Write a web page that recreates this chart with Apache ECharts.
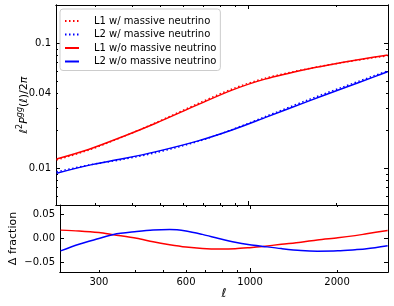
<!DOCTYPE html>
<html>
<head>
<meta charset="utf-8">
<script src="https://cdn.jsdelivr.net/npm/echarts@6/dist/echarts.min.js"></script>
<style>html,body{margin:0;padding:0;background:#fff;}#c{width:394px;height:306px;}</style>
</head>
<body>
<div id="c"></div>
<script>
// ---- data ----
var ellMain = [221, 284, 371, 480, 673, 879, 1139, 1596, 2085, 2700, 2991];
var L1_with = [0.01166, 0.01394, 0.01779, 0.02300, 0.03296, 0.04310, 0.05248, 0.06259, 0.06996, 0.07688, 0.07939];
var L2_with = [0.00936, 0.01060, 0.01175, 0.01328, 0.01640, 0.02038, 0.02585, 0.03519, 0.04438, 0.05516, 0.06006];
var L1_without = [0.01186, 0.01413, 0.01786, 0.02280, 0.03228, 0.04217, 0.05164, 0.06223, 0.07015, 0.07780, 0.08072];
var L2_without = [0.00912, 0.01054, 0.01189, 0.01352, 0.01656, 0.02023, 0.02541, 0.03428, 0.04325, 0.05408, 0.05916];

var ellDelta = [221, 256, 300, 337, 405, 462, 527, 600, 684, 779, 888, 997, 1110, 1282, 1499, 1709, 2012, 2308, 2529, 2991];
var dL1 = [0.0175, 0.0158, 0.0124, 0.0078, 0.0005, -0.0070, -0.0130, -0.0178, -0.0208, -0.0220, -0.0215, -0.0192, -0.0165, -0.0122, -0.0079, -0.0030, 0.0015, 0.0060, 0.0098, 0.0168];
var dL2 = [-0.0258, -0.0120, 0.0000, 0.0085, 0.0145, 0.0178, 0.0187, 0.0157, 0.0086, 0.0000, -0.0079, -0.0130, -0.0165, -0.0210, -0.0250, -0.0264, -0.0258, -0.0235, -0.0215, -0.0150];

var xLabelTicks = [300, 600, 1000, 2000];
var xMinorTicks = [300, 400, 500, 600, 700, 800, 900, 2000, 3000];
var xMajorTicks = [1000];
var yLabelTicks = [0.01, 0.04, 0.1];
var yMinorTicks = [0.006, 0.007, 0.008, 0.009, 0.02, 0.03, 0.04, 0.05, 0.06, 0.07, 0.08, 0.09, 0.2];
var yMajorTicks = [0.01, 0.1];
var dLabelTicks = [-0.05, 0, 0.05];

var names = ['L1 w/ massive neutrino', 'L2 w/ massive neutrino', 'L1 w/o massive neutrino', 'L2 w/o massive neutrino'];

function pairs(xs, ys) { return xs.map(function (x, i) { return [x, ys[i]]; }); }

var FONT = 'DejaVu Sans';
var lineStyleAxis = { color: '#000', width: 1 };

function xAx(grid, pos, ticks, len, labels) {
  return {
    type: 'log', logBase: 10, gridIndex: grid, position: pos, min: 220, max: 3000,
    axisLine: { show: true, onZero: false, lineStyle: lineStyleAxis },
    axisTick: { show: true, inside: true, length: len, customValues: ticks, lineStyle: lineStyleAxis },
    axisLabel: labels ? {
      show: true, customValues: labels, color: '#000', fontSize: 10, fontFamily: FONT, margin: 5,
      formatter: function (v) { return String(Math.round(v)); }
    } : { show: false },
    splitLine: { show: false }, minorTick: { show: false }
  };
}
function yAxLog(pos, ticks, len, labels, name) {
  var o = {
    type: 'log', logBase: 10, gridIndex: 0, position: pos, min: 0.00508, max: 0.2024,
    axisLine: { show: true, onZero: false, lineStyle: lineStyleAxis },
    axisTick: { show: true, inside: true, length: len, customValues: ticks, lineStyle: lineStyleAxis },
    axisLabel: labels ? {
      show: true, customValues: labels, color: '#000', fontSize: 10, fontFamily: FONT, margin: 5,
      formatter: function (v) { return String(parseFloat(Number(v).toPrecision(6))); }
    } : { show: false },
    splitLine: { show: false }
  };
  if (name) {
    o.name = '{i|ℓ}{s|2}{i|P}{si|gg}{r|(}{i|ℓ}{r|)/2}{i|π}';
    o.nameLocation = 'middle';
    o.nameGap = 26;
    o.nameMoveOverlap = false;
    o.nameTextStyle = {
      color: '#000', fontFamily: FONT, fontSize: 11,
      rich: {
        i: { fontStyle: 'italic', fontSize: 11, fontFamily: FONT, color: '#000', lineHeight: 14, verticalAlign: 'bottom' },
        r: { fontSize: 11, fontFamily: FONT, color: '#000', lineHeight: 14, verticalAlign: 'bottom' },
        s: { fontSize: 8, fontFamily: FONT, color: '#000', lineHeight: 8, verticalAlign: 'top' },
        si: { fontSize: 8, fontStyle: 'italic', fontFamily: FONT, color: '#000', lineHeight: 8, verticalAlign: 'top' }
      }
    };
  }
  return o;
}
function yAxLin(pos, labels, name) {
  var o = {
    type: 'value', gridIndex: 1, position: pos, min: -0.07, max: 0.07,
    axisLine: { show: true, onZero: false, lineStyle: lineStyleAxis },
    axisTick: { show: true, inside: true, length: 4, customValues: dLabelTicks, lineStyle: lineStyleAxis },
    axisLabel: labels ? {
      show: true, customValues: dLabelTicks, color: '#000', fontSize: 10, fontFamily: FONT, margin: 5,
      formatter: function (v) { return Math.abs(v) < 1e-9 ? '0.00' : (v < 0 ? '\u2212' : '') + Math.abs(v).toFixed(2); }
    } : { show: false },
    splitLine: { show: false }
  };
  if (name) {
    o.name = 'Δ fraction';
    o.nameLocation = 'middle';
    o.nameGap = 41;
    o.nameMoveOverlap = false;
    o.nameTextStyle = { color: '#000', fontFamily: FONT, fontSize: 11 };
  }
  return o;
}

var xAxes = [
  xAx(0, 'bottom', xMinorTicks, 2, null),
  xAx(0, 'bottom', xMajorTicks, 4, null),
  xAx(0, 'top', xMinorTicks, 2, null),
  xAx(0, 'top', xMajorTicks, 4, null),
  xAx(1, 'bottom', xMinorTicks, 2, xLabelTicks),
  xAx(1, 'bottom', xMajorTicks, 4, null),
  xAx(1, 'top', xMinorTicks, 2, null),
  xAx(1, 'top', xMajorTicks, 4, null)
];
xAxes[4].name = 'ℓ';
xAxes[4].nameLocation = 'middle';
xAxes[4].nameGap = 16;
xAxes[4].nameMoveOverlap = false;
xAxes[4].nameTextStyle = { color: '#000', fontFamily: FONT, fontSize: 12, fontStyle: 'italic' };

var yAxes = [
  yAxLog('left', yMinorTicks, 2, yLabelTicks, true),
  yAxLog('left', yMajorTicks, 4, null, false),
  yAxLog('right', yMinorTicks, 2, null, false),
  yAxLog('right', yMajorTicks, 4, null, false),
  yAxLin('left', true, true),
  yAxLin('right', false, false)
];

function ser(name, xi, yi, data, color, dotted) {
  return {
    name: name, type: 'line', xAxisIndex: xi, yAxisIndex: yi, data: data,
    symbol: 'none', smooth: 0.3, silent: true, animation: false,
    lineStyle: { color: color, width: 1.5, type: dotted ? [1.5, 2.5] : 'solid' },
    itemStyle: { color: color }
  };
}

var option = {
  backgroundColor: '#fff',
  animation: false,
  grid: [
    { left: 56, top: 5, width: 332, height: 200, containLabel: false },
    { left: 56, top: 205, width: 332, height: 67, containLabel: false }
  ],
  legend: {
    data: names, orient: 'vertical', left: 60, top: 9,
    padding: [7, 4, 4, 4], itemWidth: 14, itemHeight: 10, itemGap: 3.5,
    backgroundColor: 'rgba(255,255,255,0.8)', borderColor: '#ccc', borderWidth: 1, borderRadius: 3,
    itemStyle: { opacity: 0 },
    textStyle: { fontSize: 10, fontFamily: FONT, color: '#000', lineHeight: 10, padding: [0, 0, 0, 10] },
    selectedMode: false
  },
  xAxis: xAxes,
  yAxis: yAxes,
  series: [
    ser(names[0], 0, 0, pairs(ellMain, L1_with), '#ff0000', true),
    ser(names[1], 0, 0, pairs(ellMain, L2_with), '#0000ff', true),
    ser(names[2], 0, 0, pairs(ellMain, L1_without), '#ff0000', false),
    ser(names[3], 0, 0, pairs(ellMain, L2_without), '#0000ff', false),
    ser('dL1', 4, 4, pairs(ellDelta, dL1), '#ff0000', false),
    ser('dL2', 4, 4, pairs(ellDelta, dL2), '#0000ff', false)
  ]
};

var chart = echarts.init(document.getElementById('c'), null, { renderer: 'canvas' });
chart.setOption(option);
</script>
</body>
</html>
